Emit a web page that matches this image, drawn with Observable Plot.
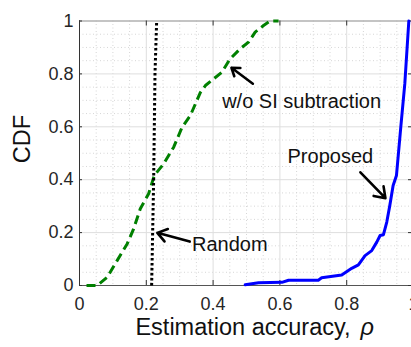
<!DOCTYPE html>
<html>
<head>
<meta charset="utf-8">
<script src="https://cdn.jsdelivr.net/npm/d3@7"></script>
<script src="https://cdn.jsdelivr.net/npm/@observablehq/plot@0.6"></script>
<style>
  html, body { margin: 0; padding: 0; background: #fff; overflow: hidden; }
  #chart svg { display: block; }
</style>
</head>
<body>
<div id="chart"></div>
<script>
// ---- data ----
const xTicks = [0, 0.2, 0.4, 0.6, 0.8, 1];
const xTickLabels = ["0", "0.2", "0.4", "0.6", "0.8", "1"];
const yTicks = [0, 0.2, 0.4, 0.6, 0.8, 1];
const yTickLabels = ["0", "0.2", "0.4", "0.6", "0.8", "1"];
const minorTicks = [0.05, 0.1, 0.15, 0.25, 0.3, 0.35, 0.45, 0.5, 0.55, 0.65, 0.7, 0.75, 0.85, 0.9, 0.95];

const xLabel = "Estimation accuracy,";
const xLabelSymbol = "ρ";
const yLabel = "CDF";

// w/o SI subtraction (green dashed)
const woX = [0.021, 0.053, 0.083, 0.113, 0.143, 0.162, 0.182, 0.207, 0.224, 0.252, 0.282, 0.307, 0.332, 0.362, 0.377, 0.426, 0.451, 0.481, 0.506, 0.526, 0.551, 0.571, 0.596];
const woY = [0, 0, 0.031, 0.095, 0.158, 0.214, 0.29, 0.347, 0.416, 0.46, 0.523, 0.598, 0.643, 0.73, 0.756, 0.806, 0.857, 0.895, 0.92, 0.958, 0.983, 1, 1];

// Random (black dotted)
const rndX = [0.216, 0.219, 0.222, 0.224, 0.226, 0.231];
const rndY = [0, 0.2, 0.4, 0.6, 0.8, 1];

// Proposed (blue solid)
const propX = [0.496, 0.536, 0.606, 0.626, 0.715, 0.725, 0.785, 0.805, 0.815, 0.835, 0.855, 0.875, 0.89, 0.9, 0.91, 0.92, 0.929, 0.939, 0.949, 0.962, 0.974, 0.986];
const propY = [0.003, 0.01, 0.012, 0.02, 0.02, 0.029, 0.04, 0.057, 0.065, 0.078, 0.113, 0.132, 0.164, 0.189, 0.192, 0.24, 0.302, 0.378, 0.416, 0.6, 0.763, 1];

// annotations
const annLabels = ["w/o SI subtraction", "Proposed", "Random"];
const annX = [0.665, 0.751, 0.45];
const annY = [0.697, 0.489, 0.153];
const arrowX1 = [0.519, 0.841, 0.330];
const arrowY1 = [0.763, 0.428, 0.166];
const arrowX2 = [0.455, 0.916, 0.233];
const arrowY2 = [0.823, 0.330, 0.199];

// ---- build tables ----
const wo = woX.map((x, i) => ({x, y: woY[i]}));
const rnd = rndX.map((x, i) => ({x, y: rndY[i]}));
const prop = propX.map((x, i) => ({x, y: propY[i]}));
const ann = annLabels.map((t, i) => ({t, x: annX[i], y: annY[i]}));
const arrows = arrowX1.map((x1, i) => ({x1, y1: arrowY1[i], x2: arrowX2[i], y2: arrowY2[i]}));

const W = 411, H = 347;
const mL = 79, mT = 20.5, mB = 62;
const frameH = H - mT - mB;
const frameW = 413 - mL;
const tickLen = 5;
const font = "'Liberation Sans', Arial, Helvetica, sans-serif";

const chart = Plot.plot({
  width: W,
  height: H,
  marginLeft: mL,
  marginTop: mT,
  marginBottom: mB,
  marginRight: 0,
  style: {fontFamily: font, background: "#fff"},
  x: {domain: [0, 1], range: [mL, 413]},
  y: {domain: [0, 1], range: [H - mB, mT]},
  marks: [
    // minor dotted grid
    Plot.gridX(minorTicks, {stroke: "#d6d6d6", strokeOpacity: 1, strokeWidth: 1, strokeDasharray: "1,2.5"}),
    Plot.gridY(minorTicks, {stroke: "#d6d6d6", strokeOpacity: 1, strokeWidth: 1, strokeDasharray: "1,2.5"}),
    // major grid
    Plot.gridX(xTicks, {stroke: "#dedede", strokeOpacity: 1, strokeWidth: 1}),
    Plot.gridY(yTicks, {stroke: "#dedede", strokeOpacity: 1, strokeWidth: 1}),
    // box
    Plot.frame({stroke: "#9a9a9a", strokeWidth: 1}),
    Plot.ruleX([0], {stroke: "#333", strokeWidth: 1}),
    Plot.ruleY([0], {stroke: "#555", strokeWidth: 1}),
    // inward ticks
    Plot.tickX(xTicks, {x: d => d, insetTop: frameH - tickLen, stroke: "#333"}),
    Plot.tickX(xTicks, {x: d => d, insetBottom: frameH - tickLen, stroke: "#333"}),
    Plot.tickY(yTicks, {y: d => d, insetRight: frameW - tickLen, stroke: "#333"}),
    Plot.tickY(yTicks, {y: d => d, insetLeft: frameW - tickLen, stroke: "#333"}),
    // tick labels
    Plot.axisX(xTicks, {tickSize: 0, tickPadding: 12, fontSize: 18, fill: "#262626", label: null,
      tickFormat: (d, i) => xTickLabels[i]}),
    Plot.axisY(yTicks, {tickSize: 0, tickPadding: 6, fontSize: 18, fill: "#262626", label: null,
      tickFormat: (d, i) => yTickLabels[i]}),
    // axis titles
    Plot.text([xLabel], {text: d => d, frameAnchor: "bottom-left", dx: 271, dy: 49, textAnchor: "end",
      fontSize: 23.5, fill: "#111"}),
    Plot.text([xLabelSymbol], {text: d => d, frameAnchor: "bottom-left", dx: 281, dy: 49, textAnchor: "start",
      fontSize: 23.5, fontStyle: "italic", fill: "#111"}),
    Plot.text([yLabel], {text: d => d, frameAnchor: "left", dx: -57, dy: 10, rotate: -90,
      fontSize: 23.5, fill: "#111"}),
    // curves
    Plot.line(wo, {x: "x", y: "y", stroke: "#008000", strokeWidth: 3, strokeDasharray: "9,5", strokeLinecap: "butt"}),
    Plot.line(rnd, {x: "x", y: "y", stroke: "#000", strokeWidth: 3, strokeDasharray: "2.6,2.4", strokeLinecap: "butt"}),
    Plot.line(prop, {x: "x", y: "y", stroke: "#0000ff", strokeWidth: 3}),
    // annotations
    Plot.arrow(arrows, {x1: "x1", y1: "y1", x2: "x2", y2: "y2", stroke: "#000", strokeWidth: 2.6, headLength: 9, headAngle: 70}),
    Plot.text(ann, {x: "x", y: "y", text: "t", fontSize: 20, fill: "#111"})
  ]
});
document.getElementById("chart").appendChild(chart);
</script>
</body>
</html>
